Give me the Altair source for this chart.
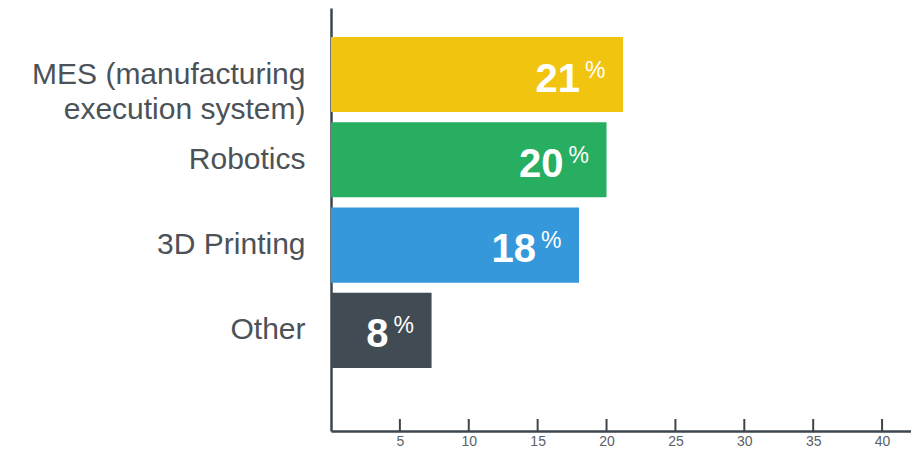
import altair as alt
import pandas as pd

categories = ["MES (manufacturing\nexecution system)", "Robotics", "3D Printing", "Other"]
bar_values = [21.2, 20.0, 18.0, 7.3]
label_values = ["21", "20", "18", "8"]
colors = ["#F1C40F", "#27AE60", "#3498DB", "#414B53"]
tick_values = [5, 10, 15, 20, 25, 30, 35, 40]

df = pd.DataFrame({"cat": categories, "val": bar_values, "lab": label_values, "color": colors})
ticks_df = pd.DataFrame({"t": tick_values})

W, H = 580, 423
FONT = "Liberation Sans"
AXIS_COLOR = "#3D464E"
TEXT_COLOR = "#4B5258"

x_scale = alt.Scale(domain=[0, 42.1], nice=False, zero=True)
y_scale = alt.Scale(domain=categories, paddingInner=0.12, paddingOuter=0.54, align=0.315)

x_enc = alt.X("val:Q", scale=x_scale,
              axis=alt.Axis(values=tick_values, title=None, grid=False, ticks=False,
                            domainColor=AXIS_COLOR, domainWidth=2.5,
                            labelFont=FONT, labelFontSize=14, labelColor="#5A6168",
                            labelPadding=3, labelBaseline="top"))
y_enc = alt.Y("cat:N", scale=y_scale, sort=categories,
              axis=alt.Axis(title=None, ticks=False, domainColor=AXIS_COLOR, domainWidth=2.5,
                            labelFont=FONT, labelFontSize=30, labelColor=TEXT_COLOR,
                            labelPadding=26, labelLimit=400, labelLineHeight=35,
                            labelExpr="split(datum.label, '\\n')"))

bars = alt.Chart(df).mark_bar().encode(
    x=x_enc, y=y_enc,
    color=alt.Color("color:N", scale=None),
)

nums = alt.Chart(df).mark_text(
    align="right", baseline="alphabetic", dx=-43, dy=17, font=FONT,
    fontSize=40, fontWeight="bold", color="white"
).encode(x=alt.X("val:Q", scale=x_scale), y=alt.Y("cat:N", scale=y_scale, sort=categories), text="lab:N")

pct = alt.Chart(df).mark_text(
    align="left", baseline="alphabetic", dx=-38, dy=3, font=FONT,
    fontSize=23, color="white"
).encode(x=alt.X("val:Q", scale=x_scale), y=alt.Y("cat:N", scale=y_scale, sort=categories),
         text=alt.value("%"))

tick_marks = alt.Chart(ticks_df).mark_rule(color=AXIS_COLOR, strokeWidth=2).encode(
    x=alt.X("t:Q", scale=x_scale),
    y=alt.value(H - 12), y2=alt.value(H),
)

chart = alt.layer(bars, nums, pct, tick_marks).properties(
    width=W, height=H,
    padding={"left": 323, "top": 0, "right": 0, "bottom": 17},
    autosize=alt.AutoSizeParams(type="none"),
    background="white",
).configure_view(stroke=None)

chart.save("out.html", embed_options={"renderer": "svg", "actions": False})
